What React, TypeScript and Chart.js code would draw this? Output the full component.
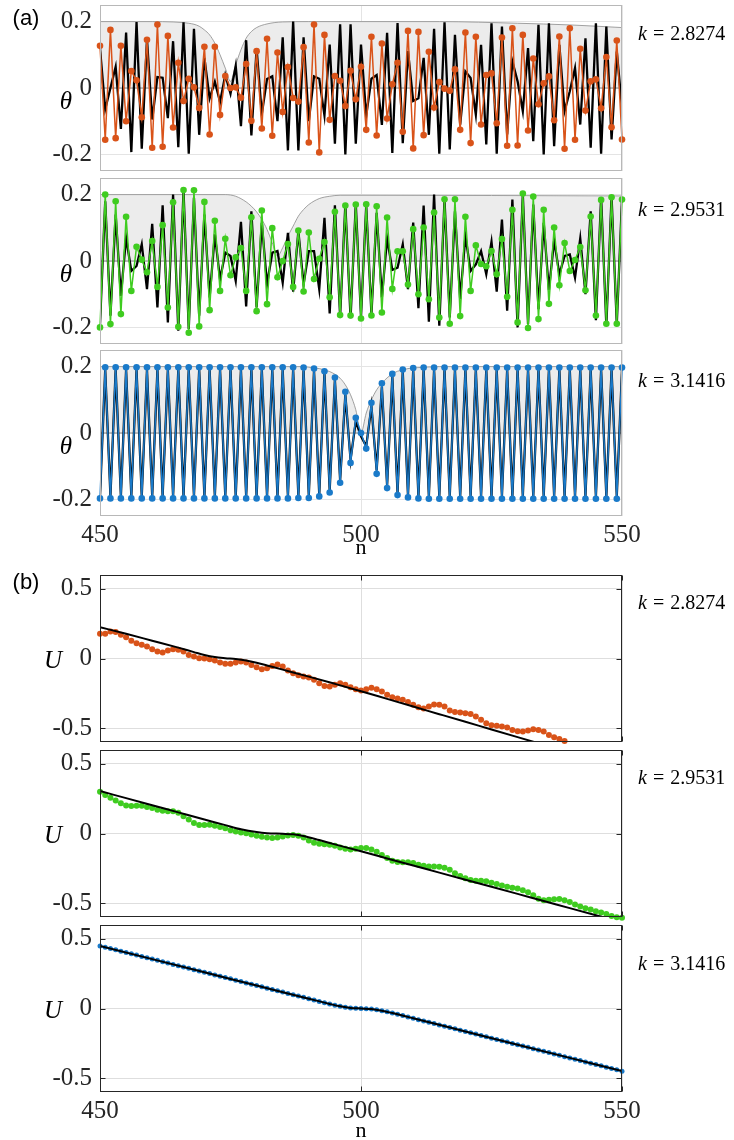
import React, { useEffect, useRef } from "react";
import { Chart, registerables } from "chart.js";

Chart.register(...registerables);

// ---------------- data ----------------
const N_START = 450;
const N_MIN = 450;
const N_MAX = 550;
const X_TICKS = [450, 500, 550];
const THETA_TICKS = [-0.2, 0, 0.2];
const THETA_MIN = -0.25;
const THETA_MAX = 0.25;
const U_TICKS = [-0.5, 0, 0.5];
const U_MIN = -0.6;
const U_MAX = 0.6;
const ZERO = 0;
const K_LABELS = ["2.8274", "2.9531", "3.1416"];

// (a) k = 2.8274 : orange dots theta_n, n = 450..550
const thetaOrange = [
  0.127, -0.156, 0.175, -0.151, 0.127, -0.1, 0.051, 0.023, -0.088, 0.145,
  -0.18, 0.191, -0.177, 0.157, -0.119, 0.076, -0.039, 0.028, 0.002, -0.06,
  0.124, -0.14, 0.124, -0.081, 0.036, 0.0, 0.002, -0.029, 0.072, -0.099,
  0.111, -0.122, 0.148, -0.144, 0.107, -0.072, 0.063, -0.03, -0.041, 0.123,
  -0.164, 0.191, -0.194, 0.16, -0.096, 0.036, 0.022, -0.054, 0.052, -0.034,
  0.064, -0.126, 0.154, -0.143, 0.134, -0.092, 0.011, 0.076, -0.132, 0.172,
  -0.182, 0.169, -0.142, 0.109, -0.059, 0.018, -0.002, -0.008, 0.056, -0.126,
  0.167, -0.166, 0.154, -0.11, 0.039, 0.044, -0.106, 0.152, -0.174, 0.18,
  -0.173, 0.16, -0.128, 0.089, -0.049, 0.014, 0.035, -0.097, 0.155, -0.183,
  0.18, -0.156, 0.118, -0.068, 0.02, 0.026, -0.061, 0.093, -0.118, 0.143,
  -0.155,
];
const thetaBlackA1 = [
  0.12, -0.064, 0.0, 0.064, -0.123, 0.167, -0.193, 0.199, -0.183, 0.147,
  -0.095, 0.033, 0.031, -0.091, 0.141, -0.178, 0.198, -0.198, 0.178, -0.141,
  0.091, -0.031, 0.019, -0.042, 0.039, -0.017, 0.067, -0.115, 0.144, -0.143,
  0.119, -0.078, 0.027, 0.035, -0.1, 0.153, -0.188, 0.2, -0.188, 0.153,
  -0.1, 0.035, 0.028, -0.083, 0.131, -0.168, 0.192, -0.2, 0.192, -0.168,
  0.131, -0.083, 0.028, 0.039, -0.111, 0.166, -0.196, 0.196, -0.166, 0.111,
  -0.039, -0.031, 0.091, -0.141, 0.178, -0.198, 0.198, -0.185, 0.16, -0.11,
  0.05, 0.03, -0.08, 0.13, -0.17, 0.195, -0.198, 0.185, -0.14, 0.08,
  0.02, -0.07, 0.12, -0.16, 0.19, -0.2, 0.195, -0.175, 0.13, -0.07,
  -0.01, 0.06, -0.11, 0.15, -0.18, 0.195, -0.198, 0.185, -0.155, 0.11,
  -0.06,
];
const envA1N = [450, 460, 464, 466, 467, 468, 469, 470, 471, 472, 473, 474, 475, 476, 477, 478, 479, 480, 482, 485, 490, 515, 530, 540, 550];
const envA1 = [0.2, 0.2, 0.199, 0.197, 0.195, 0.192, 0.186, 0.175, 0.16, 0.135, 0.1, 0.06, 0.02, 0.07, 0.115, 0.15, 0.17, 0.182, 0.193, 0.199, 0.2, 0.2, 0.195, 0.19, 0.182];

// (a) k = 2.9531 : green dots
const thetaGreen = [
  -0.2, 0.2, -0.19, 0.18, -0.16, 0.133, -0.09, 0.043, 0.004, -0.034,
  0.06, -0.078, 0.108, -0.14, 0.177, -0.198, 0.214, -0.216, 0.213, -0.197,
  0.178, -0.148, 0.121, -0.09, 0.067, -0.043, 0.011, 0.039, -0.09, 0.132,
  -0.151, 0.152, -0.13, 0.099, -0.049, 0.0, 0.051, -0.078, 0.092, -0.092,
  0.086, -0.054, 0.007, 0.057, -0.109, 0.148, -0.163, 0.167, -0.164, 0.17,
  -0.173, 0.171, -0.164, 0.165, -0.155, 0.131, -0.084, 0.029, 0.029, -0.071,
  0.096, -0.1, 0.101, -0.115, 0.146, -0.17, 0.186, -0.189, 0.186, -0.166,
  0.133, -0.09, 0.047, -0.009, -0.016, 0.03, -0.04, 0.066, -0.108, 0.154,
  -0.185, 0.203, -0.202, 0.194, -0.175, 0.154, -0.129, 0.101, -0.073, 0.054,
  -0.03, 0.003, 0.042, -0.088, 0.134, -0.164, 0.184, -0.189, 0.192, -0.189,
  0.185,
];
const thetaBlackA2 = [
  -0.19, 0.18, -0.165, 0.14, -0.105, 0.07, -0.03, -0.015, 0.05, -0.085,
  0.112, -0.14, 0.168, -0.185, 0.2, -0.21, 0.212, -0.205, 0.19, -0.165,
  0.14, -0.11, 0.08, -0.055, 0.025, 0.015, -0.06, 0.118, -0.137, 0.15,
  -0.14, 0.115, -0.07, 0.025, 0.03, -0.065, 0.085, -0.092, 0.09, -0.07,
  0.03, 0.03, -0.085, 0.13, -0.158, 0.168, -0.168, 0.17, -0.172, 0.172,
  -0.168, 0.166, -0.16, 0.145, -0.11, 0.068, -0.027, -0.02, 0.05, -0.085,
  0.116, -0.142, 0.167, -0.183, 0.2, -0.195, 0.185, -0.17, 0.15, -0.115,
  0.075, -0.03, -0.01, 0.03, -0.04, 0.058, -0.092, 0.125, -0.15, 0.185,
  -0.2, 0.2, -0.19, 0.17, -0.145, 0.115, -0.088, 0.062, -0.04, 0.015,
  0.02, -0.05, 0.068, -0.1, 0.15, -0.178, 0.192, -0.195, 0.195, -0.19,
  0.185,
];
const envA2N = [450, 474, 476, 478, 479, 480, 481, 482, 483, 484, 485, 486, 487, 488, 489, 490, 492, 494, 496, 500, 550];
const envA2 = [0.2, 0.2, 0.195, 0.178, 0.165, 0.148, 0.125, 0.095, 0.055, 0.015, 0.04, 0.075, 0.105, 0.135, 0.155, 0.17, 0.188, 0.195, 0.198, 0.198, 0.196];

// (a) k = 3.1416 : blue dots
const thetaBlue = [
  -0.197, 0.198, -0.197, 0.198, -0.197, 0.198, -0.197, 0.198, -0.197, 0.198,
  -0.197, 0.198, -0.197, 0.198, -0.197, 0.198, -0.197, 0.198, -0.197, 0.198,
  -0.197, 0.198, -0.197, 0.198, -0.197, 0.198, -0.197, 0.198, -0.197, 0.198,
  -0.197, 0.198, -0.197, 0.198, -0.197, 0.198, -0.197, 0.198, -0.196, 0.197,
  -0.196, 0.194, -0.191, 0.186, -0.179, 0.167, -0.15, 0.124, -0.09, 0.046,
  0.0, -0.047, 0.091, -0.123, 0.15, -0.166, 0.178, -0.187, 0.191, -0.194,
  0.196, -0.197, 0.197, -0.198, 0.197, -0.198, 0.197, -0.198, 0.197, -0.198,
  0.197, -0.198, 0.197, -0.198, 0.197, -0.198, 0.197, -0.198, 0.197, -0.198,
  0.197, -0.198, 0.197, -0.198, 0.197, -0.198, 0.197, -0.198, 0.197, -0.198,
  0.197, -0.198, 0.197, -0.198, 0.197, -0.198, 0.197, -0.198, 0.197, -0.198,
  0.197,
];
const thetaBlackA3 = [
  -0.19, 0.19, -0.19, 0.19, -0.19, 0.19, -0.19, 0.19, -0.19, 0.19,
  -0.19, 0.19, -0.19, 0.19, -0.19, 0.19, -0.19, 0.19, -0.19, 0.19,
  -0.19, 0.19, -0.19, 0.19, -0.19, 0.19, -0.19, 0.19, -0.19, 0.19,
  -0.19, 0.19, -0.19, 0.19, -0.19, 0.19, -0.19, 0.19, -0.189, 0.189,
  -0.188, 0.188, -0.185, 0.18, -0.172, 0.16, -0.142, 0.115, -0.08, 0.035,
  -0.01, -0.04, 0.08, -0.113, 0.14, -0.158, 0.17, -0.18, 0.185, -0.188,
  0.189, -0.19, 0.19, -0.19, 0.19, -0.19, 0.19, -0.19, 0.19, -0.19,
  0.19, -0.19, 0.19, -0.19, 0.19, -0.19, 0.19, -0.19, 0.19, -0.19,
  0.19, -0.19, 0.19, -0.19, 0.19, -0.19, 0.19, -0.19, 0.19, -0.19,
  0.19, -0.19, 0.19, -0.19, 0.19, -0.19, 0.19, -0.19, 0.19, -0.19,
  0.19,
];
const envA3N = [450, 489, 490, 491, 492, 493, 494, 495, 496, 497, 498, 499, 500, 501, 502, 503, 504, 505, 506, 507, 508, 509, 510, 512, 515, 550];
const envA3 = [0.2, 0.2, 0.198, 0.196, 0.194, 0.19, 0.185, 0.177, 0.165, 0.145, 0.115, 0.07, 0.0, 0.06, 0.1, 0.13, 0.15, 0.166, 0.178, 0.186, 0.19, 0.194, 0.196, 0.198, 0.2, 0.2];

// (b) k = 2.8274 : orange dots U_n, n = 450..539 (the rest lies below the axis)
const uOrange = [
  0.177, 0.177, 0.194, 0.19, 0.17, 0.153, 0.127, 0.11, 0.098, 0.086,
  0.067, 0.05, 0.043, 0.058, 0.067, 0.062, 0.05, 0.026, 0.014, 0.002,
  0.0, -0.005, -0.014, -0.029, -0.038, -0.038, -0.029, -0.022, -0.029, -0.046,
  -0.062, -0.077, -0.07, -0.053, -0.043, -0.058, -0.086, -0.106, -0.12, -0.129,
  -0.137, -0.153, -0.177, -0.197, -0.201, -0.189, -0.177, -0.189, -0.206, -0.221,
  -0.23, -0.221, -0.211, -0.221, -0.237, -0.261, -0.278, -0.288, -0.297, -0.312,
  -0.333, -0.35, -0.36, -0.345, -0.331, -0.333, -0.345, -0.374, -0.384, -0.388,
  -0.393, -0.398, -0.417, -0.441, -0.465, -0.48, -0.484, -0.489, -0.496, -0.513,
  -0.523, -0.525, -0.518, -0.508, -0.513, -0.525, -0.549, -0.566, -0.578, -0.592,
];
const uBlackB1N = [450, 455, 460, 465, 468, 470, 472, 474, 476, 478, 480, 482, 485, 490, 495, 500, 505, 510, 515, 520, 525, 530, 535];
const uBlackB1 = [0.225, 0.178, 0.128, 0.078, 0.046, 0.025, 0.01, 0.002, -0.004, -0.014, -0.03, -0.05, -0.08, -0.13, -0.182, -0.235, -0.29, -0.345, -0.4, -0.455, -0.51, -0.565, -0.62];

// (b) k = 2.9531 : green dots
const uGreen = [
  0.3, 0.276, 0.256, 0.237, 0.217, 0.202, 0.198, 0.2, 0.2, 0.19,
  0.183, 0.171, 0.163, 0.159, 0.159, 0.149, 0.124, 0.1, 0.076, 0.061,
  0.061, 0.063, 0.056, 0.046, 0.037, 0.024, 0.015, 0.007, 0.002, -0.007,
  -0.017, -0.024, -0.029, -0.032, -0.029, -0.022, -0.015, -0.01, -0.017, -0.029,
  -0.051, -0.066, -0.073, -0.078, -0.08, -0.088, -0.1, -0.11, -0.115, -0.11,
  -0.105, -0.105, -0.115, -0.132, -0.154, -0.176, -0.195, -0.205, -0.207, -0.207,
  -0.212, -0.224, -0.232, -0.237, -0.237, -0.239, -0.246, -0.261, -0.285, -0.305,
  -0.322, -0.334, -0.339, -0.339, -0.344, -0.354, -0.363, -0.373, -0.383, -0.39,
  -0.395, -0.407, -0.422, -0.444, -0.468, -0.48, -0.476, -0.473, -0.471, -0.48,
  -0.493, -0.51, -0.524, -0.537, -0.546, -0.559, -0.568, -0.578, -0.593, -0.602,
  -0.605,
];
const uBlackB2N = [450, 455, 460, 465, 470, 474, 477, 480, 482, 485, 487, 489, 492, 495, 500, 505, 510, 515, 520, 525, 530, 535, 540, 545, 550];
const uBlackB2 = [0.305, 0.254, 0.203, 0.152, 0.101, 0.06, 0.03, 0.01, 0.002, -0.002, -0.006, -0.018, -0.047, -0.078, -0.128, -0.179, -0.23, -0.281, -0.332, -0.383, -0.434, -0.485, -0.536, -0.587, -0.638];

// (b) k = 3.1416 : blue dots
const uBlue = [
  0.45, 0.441, 0.431, 0.422, 0.412, 0.403, 0.393, 0.384, 0.374, 0.365,
  0.355, 0.346, 0.336, 0.327, 0.317, 0.308, 0.298, 0.289, 0.279, 0.27,
  0.26, 0.251, 0.241, 0.232, 0.222, 0.213, 0.203, 0.194, 0.184, 0.175,
  0.165, 0.156, 0.146, 0.137, 0.127, 0.118, 0.108, 0.099, 0.089, 0.08,
  0.07, 0.061, 0.051, 0.042, 0.033, 0.024, 0.016, 0.009, 0.004, 0.001,
  0.0, -0.001, -0.004, -0.009, -0.016, -0.024, -0.033, -0.042, -0.051, -0.061,
  -0.07, -0.08, -0.089, -0.099, -0.108, -0.118, -0.127, -0.137, -0.146, -0.156,
  -0.165, -0.175, -0.184, -0.194, -0.203, -0.213, -0.222, -0.232, -0.241, -0.251,
  -0.26, -0.27, -0.279, -0.289, -0.298, -0.308, -0.317, -0.327, -0.336, -0.346,
  -0.355, -0.365, -0.374, -0.384, -0.393, -0.403, -0.412, -0.422, -0.431, -0.441,
  -0.45,
];
const uBlackB3N = [450, 460, 470, 480, 490, 494, 496, 498, 500, 502, 504, 506, 510, 520, 530, 540, 550];
const uBlackB3 = [0.45, 0.355, 0.26, 0.165, 0.07, 0.033, 0.016, 0.004, 0.0, -0.004, -0.016, -0.033, -0.07, -0.165, -0.26, -0.355, -0.45];

// ---------------- styles ----------------
const ORANGE = "#d95319";
const GREEN = "#3fcc20";
const BLUE = "#1a7ac9";
const SERIF = '"Liberation Serif", "Times New Roman", serif';
const SANS = '"Liberation Sans", Arial, sans-serif';
const TICK_COLOR = "#262626";
const TICK_FONT = 25;

const seq = (vals: number[]) => vals.map((v, i) => ({ x: N_START + i, y: v }));
const pairs = (ns: number[], vals: number[]) => ns.map((n, i) => ({ x: n, y: vals[i] }));

type PanelProps = {
  top: number;
  bottom: number;
  kind: "theta" | "u";
  showX: boolean;
  color: string;
  dots: number[];
  black: { x: number; y: number }[];
  env?: { x: number; y: number }[];
  dotRadius: number;
};

function Panel(props: PanelProps) {
  const ref = useRef<HTMLCanvasElement>(null);
  const { top, bottom, kind, showX } = props;
  const padTop = 32;
  const padBottom = showX ? 4 : 32;
  const xH = showX ? 40 : 0;
  const h = bottom - top + padTop + padBottom + xH;

  useEffect(() => {
    const isTheta = kind === "theta";
    const borderColor = isTheta ? "#b8b8b8" : "#262626";
    const tickLen = isTheta ? 0 : 5;
    const yTicks = isTheta ? THETA_TICKS : U_TICKS;

    const boxPlugin = {
      id: "box",
      afterDatasetsDraw(chart: any) {
        const { ctx, chartArea } = chart;
        const l = Math.round(chartArea.left) + 0.5;
        const t = Math.round(chartArea.top) + 0.5;
        const r = Math.round(chartArea.right) - 0.5;
        const b = Math.round(chartArea.bottom) - 0.5;
        ctx.save();
        ctx.strokeStyle = borderColor;
        ctx.lineWidth = 1;
        ctx.strokeRect(l, t, r - l, b - t);
        if (tickLen > 0) {
          const ys = chart.scales.y;
          const xs = chart.scales.x;
          ctx.beginPath();
          yTicks.forEach((v) => {
            const py = Math.round(ys.getPixelForValue(v)) + 0.5;
            ctx.moveTo(l, py);
            ctx.lineTo(l + tickLen, py);
            ctx.moveTo(r, py);
            ctx.lineTo(r - tickLen, py);
          });
          X_TICKS.forEach((v) => {
            const px = Math.round(xs.getPixelForValue(v)) + 0.5;
            ctx.moveTo(px, b);
            ctx.lineTo(px, b - tickLen);
            ctx.moveTo(px, t);
            ctx.lineTo(px, t + tickLen);
          });
          ctx.stroke();
        }
        ctx.restore();
      },
    };

    const datasets: any[] = [];
    if (isTheta) {
      datasets.push({
        data: seq(props.dots),
        borderColor: props.color,
        borderWidth: 1.5,
        pointRadius: props.dotRadius,
        pointBackgroundColor: props.color,
        pointBorderWidth: 0,
        clip: false,
      });
      datasets.push({
        data: props.black,
        borderColor: "#000000",
        borderWidth: 2.3,
        pointRadius: 0,
      });
      datasets.push({
        data: [
          { x: N_MIN, y: ZERO },
          { x: N_MAX, y: ZERO },
        ],
        borderColor: "#8c8c8c",
        borderWidth: 1,
        pointRadius: 0,
      });
      datasets.push({
        data: props.env,
        borderColor: "#8a8a8a",
        borderWidth: 0.8,
        backgroundColor: "#ececec",
        fill: "origin",
        cubicInterpolationMode: "monotone",
        pointRadius: 0,
      });
    } else {
      datasets.push({
        data: props.black,
        borderColor: "#000000",
        borderWidth: 2,
        pointRadius: 0,
        cubicInterpolationMode: "monotone",
      });
      datasets.push({
        data: seq(props.dots),
        showLine: false,
        pointRadius: props.dotRadius,
        pointBackgroundColor: props.color,
        pointBorderWidth: 0,
        clip: false,
      });
    }

    const chart = new Chart(ref.current as HTMLCanvasElement, {
      type: "line",
      data: { datasets },
      options: {
        responsive: false,
        animation: false,
        events: [],
        layout: { padding: { top: padTop, bottom: padBottom, left: 0, right: 112 } },
        plugins: { legend: { display: false }, tooltip: { enabled: false } },
        scales: {
          x: {
            type: "linear",
            min: N_MIN,
            max: N_MAX,
            afterBuildTicks: (s: any) => {
              s.ticks = X_TICKS.map((v) => ({ value: v }));
            },
            afterFit: (s: any) => {
              s.height = xH;
            },
            border: { display: false },
            grid: { color: isTheta ? "#e4e4e4" : "#dedede", drawTicks: false, lineWidth: 1 },
            ticks: {
              display: showX,
              padding: 4,
              autoSkip: false,
              maxRotation: 0,
              color: TICK_COLOR,
              font: { family: SERIF, size: TICK_FONT },
              callback: (v: any) => String(v),
            },
          },
          y: {
            type: "linear",
            min: isTheta ? THETA_MIN : U_MIN,
            max: isTheta ? THETA_MAX : U_MAX,
            afterBuildTicks: (s: any) => {
              s.ticks = yTicks.map((v) => ({ value: v }));
            },
            afterFit: (s: any) => {
              s.width = 100;
            },
            border: { display: false },
            grid: { color: isTheta ? "#e4e4e4" : "#dedede", drawTicks: false, lineWidth: 1 },
            ticks: {
              padding: 8,
              color: TICK_COLOR,
              font: { family: SERIF, size: TICK_FONT },
              callback: (v: any) => String(v),
            },
          },
        },
      } as any,
      plugins: [boxPlugin],
    });
    return () => chart.destroy();
  }, []);

  return (
    <canvas
      ref={ref}
      width={734}
      height={h}
      style={{ position: "absolute", left: 0, top: top - padTop, width: 734, height: h }}
    />
  );
}

function Label({ x, y, children, style }: { x: number; y: number; children: any; style?: any }) {
  return (
    <div
      style={{
        position: "absolute",
        left: x,
        top: y,
        transform: "translate(-50%, -50%)",
        whiteSpace: "nowrap",
        lineHeight: 1,
        color: "#000",
        ...style,
      }}
    >
      {children}
    </div>
  );
}

function KLabel({ x, y, k }: { x: number; y: number; k: string }) {
  return (
    <div
      style={{
        position: "absolute",
        left: x,
        top: y,
        transform: "translateY(-50%)",
        whiteSpace: "nowrap",
        lineHeight: 1,
        fontFamily: SERIF,
        fontSize: 20,
        color: "#000",
      }}
    >
      <span style={{ fontStyle: "italic" }}>k</span>
      <span style={{ margin: "0 0.3em" }}>=</span>
      <span>{k}</span>
    </div>
  );
}

export default function App() {
  const aPanels = [
    { top: 5, bottom: 171, color: ORANGE, dots: thetaOrange, black: seq(thetaBlackA1), env: pairs(envA1N, envA1) },
    { top: 178, bottom: 344, color: GREEN, dots: thetaGreen, black: seq(thetaBlackA2), env: pairs(envA2N, envA2) },
    { top: 350, bottom: 516, color: BLUE, dots: thetaBlue, black: seq(thetaBlackA3), env: pairs(envA3N, envA3) },
  ];
  const bPanels = [
    { top: 575, bottom: 742, color: ORANGE, dots: uOrange, black: pairs(uBlackB1N, uBlackB1), r: 3 },
    { top: 750, bottom: 917, color: GREEN, dots: uGreen, black: pairs(uBlackB2N, uBlackB2), r: 3 },
    { top: 925, bottom: 1092, color: BLUE, dots: uBlue, black: pairs(uBlackB3N, uBlackB3), r: 2.5 },
  ];
  const kYA = [33, 209, 380];
  const kYB = [602, 777, 963];

  return (
    <div style={{ position: "absolute", left: 0, top: 0, width: 734, height: 1140, background: "#fff", overflow: "hidden" }}>
      {aPanels.map((p, i) => (
        <Panel
          key={"a" + i}
          top={p.top}
          bottom={p.bottom}
          kind="theta"
          showX={i === 2}
          color={p.color}
          dots={p.dots}
          black={p.black}
          env={p.env}
          dotRadius={3.3}
        />
      ))}
      {bPanels.map((p, i) => (
        <Panel
          key={"b" + i}
          top={p.top}
          bottom={p.bottom}
          kind="u"
          showX={i === 2}
          color={p.color}
          dots={p.dots}
          black={p.black}
          dotRadius={p.r}
        />
      ))}

      <Label x={26} y={18} style={{ fontFamily: SANS, fontSize: 22 }}>(a)</Label>
      <Label x={26} y={582} style={{ fontFamily: SANS, fontSize: 22 }}>(b)</Label>

      {aPanels.map((p, i) => (
        <Label key={"th" + i} x={66} y={(p.top + p.bottom) / 2 + 12} style={{ fontFamily: SERIF, fontSize: 25, fontStyle: "italic" }}>
          θ
        </Label>
      ))}
      {bPanels.map((p, i) => (
        <Label key={"u" + i} x={53} y={(p.top + p.bottom) / 2} style={{ fontFamily: SERIF, fontSize: 25, fontStyle: "italic" }}>
          U
        </Label>
      ))}

      {K_LABELS.map((k, i) => (
        <KLabel key={"ka" + i} x={638} y={kYA[i]} k={k} />
      ))}
      {K_LABELS.map((k, i) => (
        <KLabel key={"kb" + i} x={638} y={kYB[i]} k={k} />
      ))}

      <Label x={361} y={547} style={{ fontFamily: SERIF, fontSize: 22 }}>n</Label>
      <Label x={361} y={1130} style={{ fontFamily: SERIF, fontSize: 22 }}>n</Label>
    </div>
  );
}
